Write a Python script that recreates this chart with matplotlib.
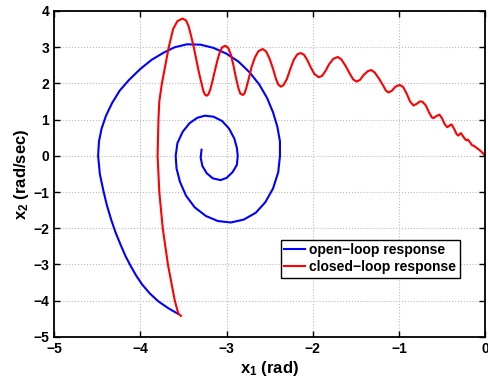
import matplotlib
matplotlib.use("Agg")
import matplotlib.pyplot as plt

plt.rcParams['font.family'] = ['Liberation Sans', 'DejaVu Sans']
plt.rcParams['font.weight'] = 'bold'
plt.rcParams['mathtext.fontset'] = 'custom'
plt.rcParams['mathtext.rm'] = 'Liberation Sans:bold'
plt.rcParams['mathtext.bf'] = 'Liberation Sans:bold'

# open-loop trajectory (x1, x2)
open_x1 = [-3.565, -3.68, -3.79, -3.89, -3.98, -4.05, -4.11, -4.17, -4.23, -4.29,
           -4.34, -4.39, -4.43, -4.47, -4.49, -4.48, -4.45, -4.40, -4.33, -4.24,
           -4.13, -4.00, -3.87, -3.73, -3.60, -3.46, -3.30, -3.15, -3.00, -2.86,
           -2.73, -2.62, -2.53, -2.46, -2.41, -2.38, -2.38, -2.40, -2.46, -2.55,
           -2.66, -2.80, -2.95, -3.10, -3.24, -3.37, -3.47, -3.54, -3.58, -3.59,
           -3.57, -3.51, -3.43, -3.34, -3.25, -3.15, -3.05, -2.97, -2.91, -2.88,
           -2.87, -2.88, -2.93, -3.00, -3.07, -3.16, -3.23, -3.28, -3.30, -3.29]
open_x2 = [-4.36, -4.20, -4.02, -3.80, -3.55, -3.30, -3.05, -2.78, -2.45, -2.10,
           -1.75, -1.35, -0.95, -0.50, 0.00, 0.40, 0.75, 1.10, 1.45, 1.80,
           2.10, 2.40, 2.65, 2.85, 3.00, 3.08, 3.07, 2.98, 2.82, 2.60,
           2.30, 1.97, 1.60, 1.20, 0.80, 0.40, 0.00, -0.45, -0.90, -1.28,
           -1.57, -1.76, -1.84, -1.80, -1.66, -1.42, -1.10, -0.72, -0.35, 0.00,
           0.35, 0.66, 0.90, 1.05, 1.11, 1.08, 0.96, 0.75, 0.48, 0.22,
           0.00, -0.25, -0.45, -0.61, -0.67, -0.62, -0.48, -0.28, -0.05, 0.17]

# closed-loop trajectory
closed_x1 = [-3.53, -3.56, -3.60, -3.68, -3.74, -3.78, -3.80, -3.79, -3.78, -3.75,
             -3.71, -3.67, -3.62, -3.57, -3.51, -3.47, -3.44, -3.41,
             -3.38, -3.35, -3.32, -3.29, -3.27, -3.25, -3.23, -3.21, -3.19, -3.17,
             -3.14, -3.11, -3.08, -3.05, -3.015, -2.98, -2.95, -2.92, -2.89, -2.86,
             -2.84, -2.81, -2.79, -2.77, -2.74, -2.71, -2.67, -2.63, -2.58, -2.54,
             -2.50, -2.46, -2.43, -2.40, -2.37, -2.34, -2.30, -2.26, -2.22, -2.18,
             -2.14, -2.10, -2.06, -2.02, -1.98, -1.93, -1.89, -1.85, -1.81, -1.76,
             -1.71, -1.67, -1.62, -1.57, -1.53, -1.49, -1.45, -1.41, -1.36, -1.32,
             -1.28, -1.23, -1.18, -1.15, -1.12, -1.08, -1.04, -0.99, -0.95, -0.91,
             -0.87, -0.83, -0.79, -0.76, -0.73, -0.69, -0.65, -0.62, -0.60, -0.57,
             -0.53, -0.50, -0.47, -0.44, -0.42, -0.39, -0.36, -0.33, -0.31, -0.28,
             -0.25, -0.22, -0.20, -0.17, -0.15, -0.13, -0.11, -0.08, -0.05, -0.02,
             0.00]
closed_x2 = [-4.42, -4.35, -4.00, -3.00, -2.00, -1.00, 0.00, 1.00, 1.50, 2.00,
             2.50, 3.00, 3.50, 3.72, 3.79, 3.74, 3.58, 3.30,
             3.00, 2.65, 2.30, 2.00, 1.80, 1.69, 1.66, 1.70, 1.82, 2.00,
             2.30, 2.60, 2.85, 3.00, 3.04, 2.98, 2.80, 2.50, 2.15, 1.85,
             1.72, 1.68, 1.73, 1.88, 2.15, 2.45, 2.72, 2.89, 2.95, 2.88,
             2.68, 2.40, 2.15, 1.97, 1.91, 1.95, 2.12, 2.40, 2.65, 2.80,
             2.84, 2.79, 2.63, 2.43, 2.26, 2.17, 2.21, 2.35, 2.53, 2.68,
             2.73, 2.67, 2.49, 2.27, 2.11, 2.05, 2.10, 2.23, 2.34, 2.37,
             2.30, 2.13, 1.93, 1.80, 1.75, 1.80, 1.91, 1.96, 1.90, 1.72,
             1.50, 1.39, 1.44, 1.50, 1.50, 1.40, 1.20, 1.07, 1.04, 1.09,
             1.14, 1.04, 0.88, 0.79, 0.82, 0.87, 0.75, 0.60, 0.56, 0.63,
             0.52, 0.43, 0.45, 0.36, 0.29, 0.28, 0.24, 0.19, 0.13, 0.06,
             0.00]

x_ticks = [-5, -4, -3, -2, -1, 0]
y_ticks = [-5, -4, -3, -2, -1, 0, 1, 2, 3, 4]

fig = plt.figure(figsize=(4.88, 3.79), dpi=100)
ax = fig.add_axes([0.111, 0.111, 0.883, 0.860])

ax.plot(open_x1, open_x2, color='#0000ff', lw=1.5, solid_joinstyle='round',
        label='open\u2212loop response')
ax.plot(closed_x1, closed_x2, color='#ff0000', lw=1.5, solid_joinstyle='round',
        label='closed\u2212loop response')

ax.set_xlim(-5, 0)
ax.set_ylim(-5, 4)
ax.set_xticks(x_ticks)
ax.set_yticks(y_ticks)
ax.tick_params(direction='in', labelsize=10, width=1.0, length=4, top=True, right=True)
ax.grid(True, linestyle=':', color='#b8b8b8', lw=0.8)
for s in ax.spines.values():
    s.set_linewidth(1.3)

ax.set_xlabel(r'$\mathbf{x_1}$ (rad)', fontsize=12, fontweight='bold', labelpad=2)
ax.set_ylabel(r'$\mathbf{x_2}$ (rad/sec)', fontsize=12, fontweight='bold', labelpad=2)

leg = ax.legend(loc='lower left', bbox_to_anchor=(0.526, 0.182), fontsize=10,
                fancybox=False, edgecolor='black', framealpha=1, borderpad=0.25,
                handlelength=1.5, handletextpad=0.3, labelspacing=0.2, borderaxespad=0)
leg.get_frame().set_linewidth(1.0)

plt.savefig('out.png', dpi=100)
